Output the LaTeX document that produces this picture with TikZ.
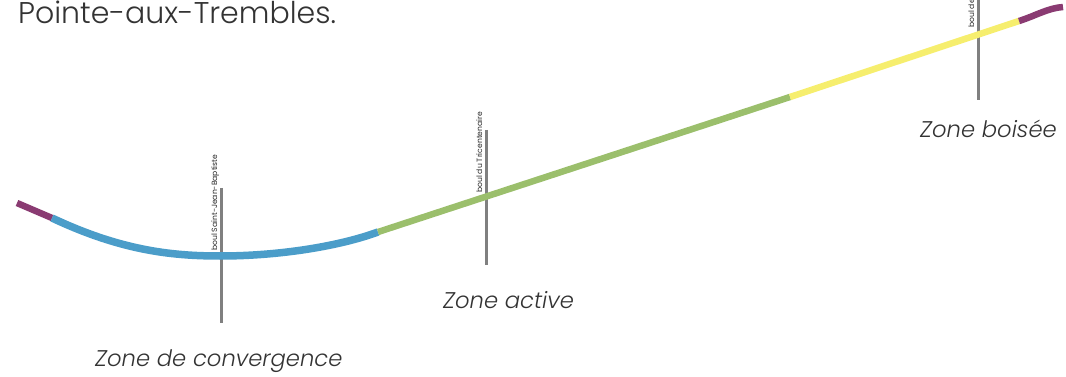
\documentclass[tikz,border=0pt]{standalone}
\usepackage{fontspec}
\setmainfont{Poppins}[UprightFont=* Light, ItalicFont=* Light Italic]
\newfontfamily\streetfont{Poppins}

\definecolor{roadpurple}{HTML}{8A3B72}
\definecolor{roadblue}{HTML}{4B9DC9}
\definecolor{roadgreen}{HTML}{9BBF6C}
\definecolor{roadyellow}{HTML}{F6EE6E}
\definecolor{streetgray}{HTML}{808080}

\tikzset{
  road/.style={line width=6.5pt, line cap=butt},
  street/.style={draw=streetgray, line width=3pt},
  streetname/.style={rotate=90, anchor=base west, inner sep=0pt, text=black!85, font=\streetfont\fontsize{7.6}{9}\selectfont},
  zonename/.style={anchor=base west, inner sep=0pt, text=black!80, font=\fontsize{22.7}{27}\selectfont\itshape}
}

\begin{document}
\begin{tikzpicture}[x=1pt, y=-1pt]
 \useasboundingbox (0,0) rectangle (1066,377);
 \clip (0,0) rectangle (1066,377);

 \node[anchor=base west, inner sep=0pt, text=black!80, font=\fontsize{30}{36}\selectfont] (title) at (18,24) {Pointe-aux-Trembles.};

 % streets crossing the road
 \foreach \x/\top/\bot/\name/\lab in {221/188/323/sjb/boul Saint-Jean-Baptiste, 486/130/265/tri/boul du Tricentenaire, 978/-5/100/bde/boul de la Rivi\`ere-des-Prairies} {
    \draw[street] (\x,\top) -- (\x,\bot);
    \node[streetname] (\name) at (\x-4,\bot-72) {\lab};
 }

 % the road, zone by zone
 \draw[road, roadpurple] (17,203) -- (52,218);
 \draw[road, roadblue, line width=7.5pt] (52,218) .. controls (120,250) and (170,256) .. (220,256)
        .. controls (280,256) and (340,246) .. (378,232);
 \draw[road, roadgreen] (378,232) -- (790,97);
 \draw[road, roadyellow] (790,97) -- (1019,21);
 \draw[road, roadpurple] (1019,21) .. controls (1035,16) and (1048,8) .. (1063,7);

 %zone labels
 \node[zonename] (conv) at (95,366) {Zone de convergence};
 \node[zonename] (active) at (443,308) {Zone active};
 \node[zonename] (bois) at (920,138) {Zone boisée};

\end{tikzpicture}
\end{document}
